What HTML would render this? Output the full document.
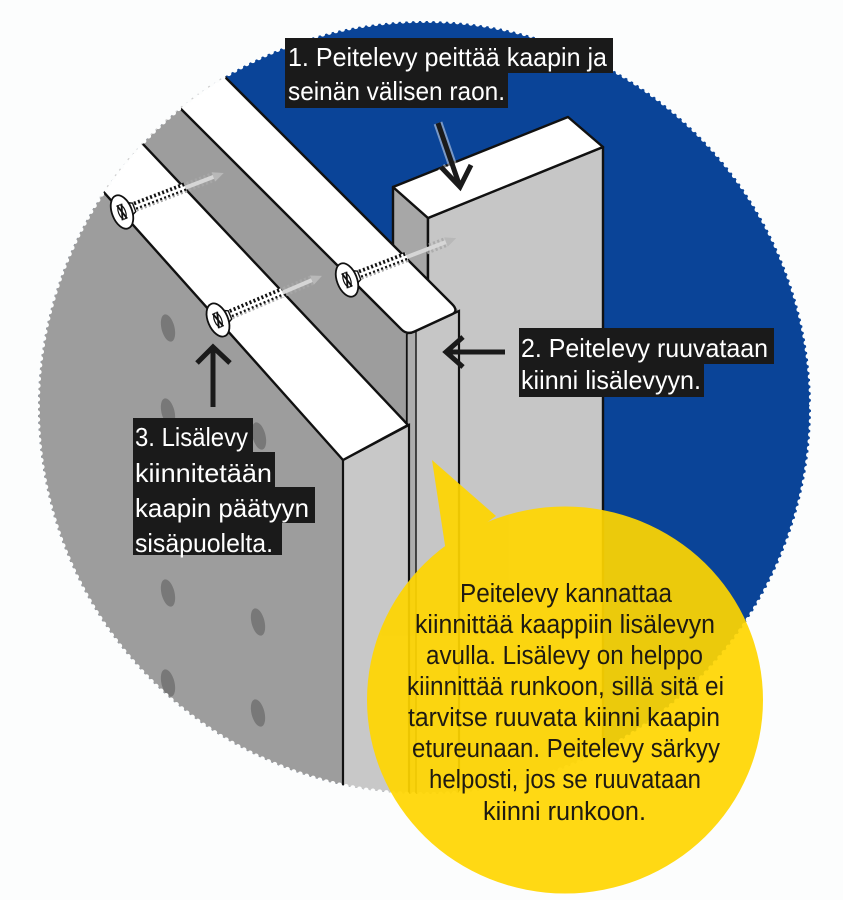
<!DOCTYPE html>
<html><head><meta charset="utf-8">
<style>
html,body{margin:0;padding:0;background:#fcfdfd;width:843px;height:900px;overflow:hidden}
svg{display:block}
text{font-family:"Liberation Sans",sans-serif}
</style></head>
<body>
<svg width="843" height="900" viewBox="0 0 843 900" xmlns="http://www.w3.org/2000/svg">
<defs>
<clipPath id="c"><circle cx="424.5" cy="407.5" r="386.5"/></clipPath>
</defs>
<rect width="843" height="900" fill="#fcfdfd"/>

<g clip-path="url(#c)">
  <rect width="843" height="900" fill="#0a4498"/>
  <!-- vertical board -->
  <polygon points="393,187 428,218 428,905 393,905" fill="#a7a7a7" stroke="#111" stroke-width="2.4" stroke-linejoin="round"/>
  <polygon points="428,218 603,147 603,905 428,905" fill="#c6c6c6" stroke="#111" stroke-width="2.4" stroke-linejoin="round"/>
  <polygon points="393,187 568,117 603,147 428,218" fill="#fff" stroke="#111" stroke-width="2.4" stroke-linejoin="round"/>

  <!-- dark grey cabinet area -->
  <polygon points="-200,-348 459,311 459,905 -200,905" fill="#9d9d9d"/>

  <!-- front face of top strip -->
  <polygon points="407,335 459,311 459,905 407,905" fill="#c6c6c6" stroke="#111" stroke-width="2.2"/>
  <polygon points="407,334 416,330 416,905 407,905" fill="#adadad" stroke="#111" stroke-width="1.4"/>

  <!-- top strip (white) -->
  <path d="M-200,-348 L452,304 Q459,311 451.7,314.4 L414.3,331.6 Q407,335 401.3,329.3 L-200,-272 Z" fill="#fff" stroke="#111" stroke-width="2.4" stroke-linejoin="round"/>

  <!-- lisälevy front face -->
  <polygon points="343,460 409,425 409,905 343,905" fill="#c8c8c8" stroke="#111" stroke-width="2.2"/>
  <!-- lisälevy top strip -->
  <polygon points="-100,-113.5 408,425 343,460 -100,-36" fill="#fff" stroke="#111" stroke-width="2.4" stroke-linejoin="round"/>

  <!-- holes -->
  <g fill="#787878">
    <ellipse cx="168" cy="328" rx="6.5" ry="14" transform="rotate(-14 168 328)"/>
    <ellipse cx="168" cy="412" rx="6.5" ry="14" transform="rotate(-14 168 412)"/>
    <ellipse cx="259" cy="436" rx="6.5" ry="14" transform="rotate(-14 259 436)"/>
    <ellipse cx="168" cy="593" rx="6.5" ry="14" transform="rotate(-14 168 593)"/>
    <ellipse cx="258" cy="622" rx="6.5" ry="14" transform="rotate(-14 258 622)"/>
    <ellipse cx="168" cy="683" rx="6.5" ry="14" transform="rotate(-14 168 683)"/>
    <ellipse cx="258" cy="713" rx="6.5" ry="14" transform="rotate(-14 258 713)"/>
  </g>

  <!-- screw 1 -->
  <g transform="translate(122,212) rotate(-21)">
    <line x1="66" y1="0" x2="98" y2="0" stroke="#a8a8a8" stroke-width="10" stroke-dasharray="2.2 2.3" opacity="0.85"/>
    <line x1="66" y1="0" x2="98" y2="0" stroke="#d6d6d6" stroke-width="4"/>
    <path d="M98,-5 L109,0 L98,5 Z" fill="#b8b8b8"/>
    <line x1="10" y1="0" x2="68" y2="0" stroke="#fff" stroke-width="9"/>
    <line x1="10" y1="-1" x2="68" y2="-1" stroke="#111" stroke-width="9" stroke-dasharray="2 2.3"/>
    <line x1="10" y1="-0.5" x2="68" y2="-0.5" stroke="#fff" stroke-width="2.5"/>
    <line x1="10" y1="4" x2="68" y2="4" stroke="#aaa" stroke-width="2" stroke-dasharray="2 2.3"/>
    <path d="M4,-9 L13,-4.5 L13,4.5 L4,9 Z" fill="#fff" stroke="#111" stroke-width="1.4"/>
    <ellipse cx="0" cy="0" rx="10" ry="17.5" fill="#fff" stroke="#111" stroke-width="1.8"/>
    <ellipse cx="0" cy="0" rx="3.5" ry="7.5" fill="none" stroke="#111" stroke-width="1.2"/>
    <path d="M-2.5,-8 L2.5,8 M2.5,-8 L-2.5,8" stroke="#111" stroke-width="1.8"/>
  </g>
  <!-- screw 3 -->
  <g transform="translate(218,320) rotate(-23)">
    <line x1="68" y1="0" x2="102" y2="0" stroke="#a8a8a8" stroke-width="10" stroke-dasharray="2.2 2.3" opacity="0.85"/>
    <line x1="68" y1="0" x2="102" y2="0" stroke="#d6d6d6" stroke-width="4"/>
    <path d="M102,-5 L113,0 L102,5 Z" fill="#b8b8b8"/>
    <line x1="10" y1="0" x2="70" y2="0" stroke="#fff" stroke-width="9"/>
    <line x1="10" y1="-1" x2="70" y2="-1" stroke="#111" stroke-width="9" stroke-dasharray="2 2.3"/>
    <line x1="10" y1="-0.5" x2="70" y2="-0.5" stroke="#fff" stroke-width="2.5"/>
    <line x1="10" y1="4" x2="70" y2="4" stroke="#aaa" stroke-width="2" stroke-dasharray="2 2.3"/>
    <path d="M4,-9 L13,-4.5 L13,4.5 L4,9 Z" fill="#fff" stroke="#111" stroke-width="1.4"/>
    <ellipse cx="0" cy="0" rx="10" ry="17.5" fill="#fff" stroke="#111" stroke-width="1.8"/>
    <ellipse cx="0" cy="0" rx="3.5" ry="7.5" fill="none" stroke="#111" stroke-width="1.2"/>
    <path d="M-2.5,-8 L2.5,8 M2.5,-8 L-2.5,8" stroke="#111" stroke-width="1.8"/>
  </g>
  <!-- screw 2 -->
  <g transform="translate(347,280) rotate(-21)">
    <line x1="62" y1="0" x2="106" y2="0" stroke="#a8a8a8" stroke-width="10" stroke-dasharray="2.2 2.3" opacity="0.85"/>
    <line x1="62" y1="0" x2="106" y2="0" stroke="#d6d6d6" stroke-width="4"/>
    <path d="M106,-5 L117,0 L106,5 Z" fill="#b8b8b8"/>
    <line x1="10" y1="0" x2="64" y2="0" stroke="#fff" stroke-width="9"/>
    <line x1="10" y1="-1" x2="64" y2="-1" stroke="#111" stroke-width="9" stroke-dasharray="2 2.3"/>
    <line x1="10" y1="-0.5" x2="64" y2="-0.5" stroke="#fff" stroke-width="2.5"/>
    <line x1="10" y1="4" x2="64" y2="4" stroke="#aaa" stroke-width="2" stroke-dasharray="2 2.3"/>
    <path d="M4,-9 L13,-4.5 L13,4.5 L4,9 Z" fill="#fff" stroke="#111" stroke-width="1.4"/>
    <ellipse cx="0" cy="0" rx="10" ry="17.5" fill="#fff" stroke="#111" stroke-width="1.8"/>
    <ellipse cx="0" cy="0" rx="3.5" ry="7.5" fill="none" stroke="#111" stroke-width="1.2"/>
    <path d="M-2.5,-8 L2.5,8 M2.5,-8 L-2.5,8" stroke="#111" stroke-width="1.8"/>
  </g>
</g>

<!-- circle edge: dashed arc over white strips and serration -->
<path d="M100,197.5 A386.5,386.5 0 0 1 223,77.7" fill="none" stroke="#cfcfcf" stroke-width="1.3" stroke-dasharray="6 5"/>
<circle cx="424.5" cy="407.5" r="387" fill="none" stroke="#fcfdfd" stroke-width="5" stroke-dasharray="0 6.8" stroke-linecap="round"/>

<!-- arrows -->
<g fill="none" stroke="#fff" stroke-width="9" opacity="0.45">
  <line x1="438" y1="123" x2="459" y2="184"/>
  <polyline points="441,167 460,187 471,165"/>
</g>
<g fill="none" stroke="#1a1a1a" stroke-width="5">
  <line x1="438" y1="123" x2="459" y2="184"/>
  <polyline points="441,167 460,187 471,165"/>
  <line x1="505" y1="352" x2="449" y2="352"/>
  <polyline points="463,337 446,352 463,367"/>
  <line x1="213" y1="407" x2="213" y2="350"/>
  <polyline points="197,363 213,347 230,363"/>
</g>

<!-- labels -->
<g fill="#1a1a1a">
  <rect x="285" y="38" width="328" height="35"/>
  <rect x="285" y="72" width="223" height="36"/>
  <rect x="519" y="328" width="255" height="36"/>
  <rect x="519" y="363" width="185" height="34"/>
  <rect x="133" y="418" width="120" height="35"/>
  <rect x="133" y="452" width="142" height="36"/>
  <rect x="133" y="487" width="182" height="36"/>
  <rect x="133" y="522" width="149" height="33"/>
</g>
<g fill="#fff" font-size="26">
  <text x="288" y="66" textLength="319" lengthAdjust="spacingAndGlyphs">1. Peitelevy peittää kaapin ja</text>
  <text x="288" y="100" textLength="217" lengthAdjust="spacingAndGlyphs">seinän välisen raon.</text>
  <text x="521" y="357" textLength="247" lengthAdjust="spacingAndGlyphs">2. Peitelevy ruuvataan</text>
  <text x="521" y="389" textLength="180" lengthAdjust="spacingAndGlyphs">kiinni lisälevyyn.</text>
  <text x="135" y="446" textLength="113" lengthAdjust="spacingAndGlyphs">3. Lisälevy</text>
  <text x="135" y="482" textLength="137" lengthAdjust="spacingAndGlyphs">kiinnitetään</text>
  <text x="135" y="517" textLength="174" lengthAdjust="spacingAndGlyphs">kaapin päätyyn</text>
  <text x="135" y="552" textLength="138" lengthAdjust="spacingAndGlyphs">sisäpuolelta.</text>
</g>

<!-- speech bubble -->
<g opacity="0.92" fill="#ffd600">
  <ellipse cx="565" cy="700" rx="198" ry="193.5"/>
  <polygon points="432,460 496,516 446,552"/>
</g>
<g fill="#1e1a12" font-size="25.5">
  <text x="460" y="602" textLength="212" lengthAdjust="spacingAndGlyphs">Peitelevy kannattaa</text>
  <text x="415" y="633" textLength="300" lengthAdjust="spacingAndGlyphs">kiinnittää kaappiin lisälevyn</text>
  <text x="426" y="664" textLength="277" lengthAdjust="spacingAndGlyphs">avulla. Lisälevy on helppo</text>
  <text x="407" y="695" textLength="317" lengthAdjust="spacingAndGlyphs">kiinnittää runkoon, sillä sitä ei</text>
  <text x="408" y="726" textLength="312" lengthAdjust="spacingAndGlyphs">tarvitse ruuvata kiinni kaapin</text>
  <text x="412" y="757" textLength="308" lengthAdjust="spacingAndGlyphs">etureunaan. Peitelevy särkyy</text>
  <text x="429" y="788" textLength="272" lengthAdjust="spacingAndGlyphs">helposti, jos se ruuvataan</text>
  <text x="483" y="820" textLength="163" lengthAdjust="spacingAndGlyphs">kiinni runkoon.</text>
</g>
</svg>
</body></html>
